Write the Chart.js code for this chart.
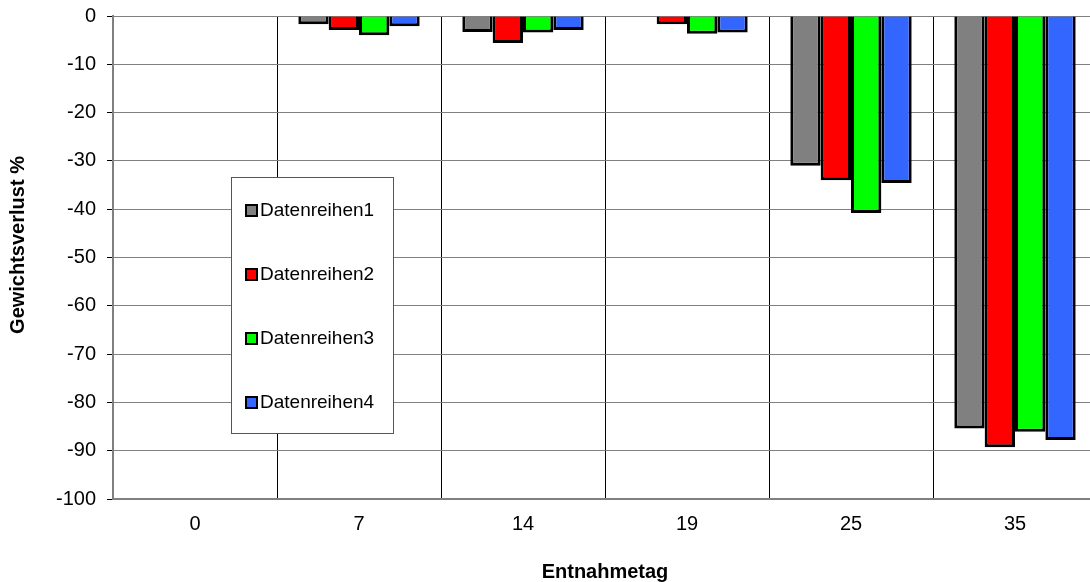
<!DOCTYPE html>
<html>
<head>
<meta charset="utf-8">
<script src="https://cdn.jsdelivr.net/npm/chart.js@4.4.1/dist/chart.umd.min.js"></script>
<style>
  html, body { margin: 0; padding: 0; background: #fff; width: 1090px; height: 582px; overflow: hidden; }
  #wrap { position: absolute; left: 0; top: 0; width: 1100px; height: 582px; }
</style>
</head>
<body>
<div id="wrap"><canvas id="c"></canvas></div>
<script>
// Entnahmetage (Tage) und Gewichtsverlust in % je Datenreihe
const entnahmetage = ['0', '7', '14', '19', '25', '35'];
const reihenNamen = ['Datenreihen1', 'Datenreihen2', 'Datenreihen3', 'Datenreihen4'];
const datenreihe1 = [0, -1.7, -3.3, -0.1, -31.0, -85.4];
const datenreihe2 = [0, -2.9, -5.6, -1.7, -34.0, -89.3];
const datenreihe3 = [0, -4.0, -3.4, -3.7, -40.8, -86.1];
const datenreihe4 = [0, -2.1, -2.9, -3.4, -34.6, -87.8];
const reihenFarben = ['#808080', '#ff0000', '#00ff00', '#3366ff'];
const yTitel = 'Gewichtsverlust %';
const xTitel = 'Entnahmetag';
const yMin = -100, yMax = 0, yStep = 10;

const FONT = '"Liberation Sans", Arial, sans-serif';

// Legende als Kasten innerhalb der Zeichenfläche, dazu der senkrechte Achsentitel
const boxLegend = {
  id: 'boxLegend',
  afterDraw(chart) {
    const ctx = chart.ctx;
    const x0 = 231, y0 = 177, w = 162, h = 256;
    ctx.save();
    ctx.fillStyle = '#ffffff';
    ctx.fillRect(x0, y0, w, h);
    ctx.strokeStyle = '#555555';
    ctx.lineWidth = 1;
    ctx.strokeRect(x0 + 0.5, y0 + 0.5, w, h);
    ctx.font = '19px ' + FONT;
    ctx.textBaseline = 'middle';
    ctx.textAlign = 'left';
    chart.data.datasets.forEach((ds, i) => {
      const cy = 210 + i * 64;
      ctx.fillStyle = ds.backgroundColor;
      ctx.fillRect(246, cy - 5, 11, 11);
      ctx.strokeStyle = '#000';
      ctx.lineWidth = 2;
      ctx.strokeRect(246, cy - 5, 11, 11);
      ctx.fillStyle = '#000';
      ctx.fillText(ds.label, 260, cy + 1);
    });

    // senkrechter Titel der Werteachse
    ctx.translate(18, 245);
    ctx.rotate(-Math.PI / 2);
    ctx.font = 'bold 20px ' + FONT;
    ctx.textAlign = 'center';
    ctx.textBaseline = 'middle';
    ctx.fillStyle = '#000';
    ctx.fillText(yTitel, 0, 0);
    ctx.restore();
  }
};

const reihen = [datenreihe1, datenreihe2, datenreihe3, datenreihe4];

new Chart(document.getElementById('c'), {
  type: 'bar',
  data: {
    labels: entnahmetage,
    datasets: reihen.map((werte, i) => ({
      label: reihenNamen[i],
      data: werte,
      backgroundColor: reihenFarben[i],
      borderColor: '#000',
      borderWidth: 3,
      categoryPercentage: 0.74,
      barPercentage: 1.0
    }))
  },
  options: {
    responsive: true,
    maintainAspectRatio: false,
    animation: false,
    devicePixelRatio: 1,
    layout: { padding: { top: 16, right: 3, left: 0, bottom: 0 } },
    plugins: { legend: { display: false }, tooltip: { enabled: false } },
    scales: {
      x: {
        grid: { offset: true, color: '#000', lineWidth: 1, drawTicks: false },
        border: { display: true, color: '#808080', width: 2 },
        ticks: { color: '#000', font: { family: FONT, size: 20 }, padding: 13 },
        title: {
          display: true, text: xTitel, color: '#000',
          font: { family: FONT, size: 20, weight: 'bold' },
          padding: { top: 0, bottom: -2 }
        },
        afterFit(s) { s.height = 83; s.paddingLeft = 0; s.paddingRight = 0; }
      },
      y: {
        min: yMin, max: yMax,
        ticks: { stepSize: yStep, color: '#000', font: { family: FONT, size: 20 }, padding: 11 },
        grid: { color: '#808080', lineWidth: 1, tickColor: '#000', tickLength: 6 },
        border: { display: true, color: '#808080', width: 2 },
        title: { display: false },
        afterFit(s) { s.width = 113; s.paddingTop = 0; s.paddingBottom = 0; }
      }
    }
  },
  plugins: [boxLegend]
});
</script>
</body>
</html>
